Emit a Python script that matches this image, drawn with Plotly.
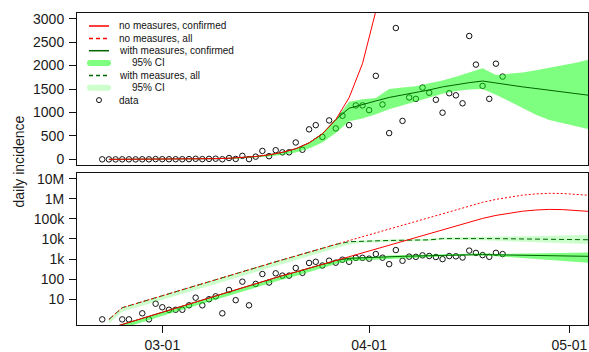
import pandas as pd
import plotly.graph_objects as go

# ---- observed daily confirmed cases ----
obs_dates = pd.date_range("2020-02-21", "2020-04-21", freq="D")
daily_cases = [
    1, 0, 0, 1, 1, 0, 2, 1, 6, 4,
    3, 3, 3, 5, 12, 5, 10, 14, 2, 29,
    9, 75, 5, 58, 180, 68, 195, 150, 150, 360,
    205, 640, 730, 478, 830, 660, 930, 730, 1150, 1150,
    1050, 1780, 1170, 560, 2800, 820, 1320, 1290, 1530, 1420,
    1270, 995, 1410, 1365, 1195, 2630, 2020, 1565, 1290, 2040,
    1765,
]

# ---- model output (every second day) ----
model_dates = pd.date_range("2020-02-22", "2020-05-04", freq="2D")

conf_no_measures = [
    0.35, 0.56, 0.91, 1.45, 2.3, 3.7, 5.9, 9.4, 15, 24,
    38, 61, 97, 150, 226, 352, 545, 848, 1316, 2040,
    3160, 4900, 7600, 11700, 18600, 29500, 45700, 70800, 105000, 148000,
    195000, 240000, 275000, 295000, 288000, 263000, 234000,
]
all_no_measures = [
    1.0, 3.8, 6.0, 9.5, 15, 24, 39, 62, 98, 155,
    245, 390, 610, 920, 1420, 2240, 3470, 5370, 8300, 12900,
    20000, 31000, 48000, 74000, 117000, 186000, 288000, 447000, 660000, 930000,
    1230000, 1510000, 1740000, 1860000, 1820000, 1660000, 1480000,
]
conf_measures = [
    0.35, 0.56, 0.91, 1.45, 2.3, 3.7, 5.9, 9.4, 15, 24,
    38, 61, 97, 150, 226, 352, 545, 848, 1090, 1175,
    1245, 1320, 1370, 1420, 1480, 1545, 1595, 1635, 1670, 1625,
    1585, 1545, 1510, 1475, 1440, 1400, 1365,
]
conf_measures_lo = [
    0.22, 0.36, 0.58, 0.93, 1.5, 2.4, 3.8, 6.1, 9.7, 15.5,
    25, 39, 62, 96, 145, 230, 360, 560, 810, 870,
    960, 1070, 1150, 1240, 1320, 1400, 1460, 1490, 1500, 1380,
    1240, 1100, 950, 840, 770, 700, 640,
]
conf_measures_hi = [
    0.36, 0.57, 0.92, 1.46, 2.3, 3.7, 5.9, 9.4, 15, 24,
    38, 61, 97, 150, 226, 352, 560, 860, 1230, 1280,
    1310, 1500, 1530, 1560, 1620, 1680, 1760, 1850, 1940, 1800,
    1820, 1850, 1900, 1950, 2000, 2060, 2130,
]
all_measures = [
    1.0, 3.8, 6.0, 9.5, 15, 24, 39, 62, 98, 155,
    245, 390, 610, 920, 1420, 2240, 3470, 5370, 7300, 7800,
    8100, 8400, 8600, 8800, 9000, 10400, 10600, 10600, 10500, 10400,
    10200, 10000, 9800, 9600, 9400, 9200, 9100,
]
all_measures_lo = [
    0.62, 2.4, 3.8, 6.0, 9.5, 15, 25, 39, 62, 98,
    155, 245, 385, 580, 900, 1410, 2200, 3400, 5300, 6400,
    6900, 7300, 7500, 7700, 7900, 9000, 9100, 8900, 8600, 8100,
    7600, 7100, 6700, 6300, 6000, 5700, 5500,
]
all_measures_hi = [
    1.02, 3.9, 6.1, 9.7, 15.3, 24.5, 40, 63, 100, 158,
    250, 398, 622, 940, 1450, 2280, 3540, 5480, 7700, 8600,
    9100, 9400, 9700, 9900, 10200, 11800, 12000, 12200, 12500, 12900,
    13300, 13700, 14100, 14500, 15000, 15500, 16000,
]

# ---- axis ticks ----
lin_ticks = [0, 500, 1000, 1500, 2000, 2500, 3000]
log_ticks = [10, 100, 1e3, 1e4, 1e5, 1e6, 1e7]
log_labels = ["10", "100", "1k", "10k", "100k", "1M", "10M"]
date_ticks = ["2020-03-01", "2020-04-01", "2020-05-01"]
date_labels = ["03-01", "04-01", "05-01"]

RED = "#ff0000"
DKGREEN = "#006400"
CI_STRONG = "rgba(0,255,0,0.5)"
CI_LIGHT = "rgba(0,255,0,0.2)"
FONT = "Liberation Sans, Arial, sans-serif"

W, H = 589, 352
ML, MR, MT, MB = 77, 1, 13, 27
PW, PH = W - ML - MR, H - MT - MB


def px(x):
    return (x - ML) / PW


def py(y):
    return (H - MB - y) / PH


fig = go.Figure()


def band(lo, hi, color, xa, ya):
    fig.add_trace(go.Scatter(x=model_dates, y=lo, mode="lines", line=dict(width=0),
                             hoverinfo="skip", xaxis=xa, yaxis=ya))
    fig.add_trace(go.Scatter(x=model_dates, y=hi, mode="lines", line=dict(width=0),
                             fill="tonexty", fillcolor=color, hoverinfo="skip",
                             xaxis=xa, yaxis=ya))


def curve(y, color, dash, xa, ya, width=1):
    fig.add_trace(go.Scatter(x=model_dates, y=y, mode="lines",
                             line=dict(color=color, width=width, dash=dash),
                             xaxis=xa, yaxis=ya))


def points(y, xa, ya):
    fig.add_trace(go.Scatter(x=obs_dates, y=y, mode="markers",
                             marker=dict(symbol="circle-open", size=5.5, color="#111",
                                         line=dict(width=1, color="#111")),
                             xaxis=xa, yaxis=ya))


# top panel: linear scale, confirmed cases only
points(daily_cases, "x", "y")
band(conf_measures_lo, conf_measures_hi, CI_STRONG, "x", "y")
curve(conf_measures, DKGREEN, "solid", "x", "y")
curve(conf_no_measures, RED, "solid", "x", "y")

# bottom panel: log scale, confirmed and all infections
cases_pos = [v if v > 0 else None for v in daily_cases]
points(cases_pos, "x2", "y2")
band(all_measures_lo, all_measures_hi, CI_LIGHT, "x2", "y2")
band(conf_measures_lo, conf_measures_hi, CI_STRONG, "x2", "y2")
curve(all_measures, DKGREEN, "5px,3px", "x2", "y2")
curve(all_no_measures, RED, "2px,2px", "x2", "y2")
curve(conf_measures, DKGREEN, "solid", "x2", "y2")
curve(conf_no_measures, RED, "solid", "x2", "y2")

x_range = ["2020-02-17 05:15", "2020-05-03 19:10"]
axis_common = dict(showline=True, mirror=True, linecolor="#111", linewidth=1,
                   showgrid=False, zeroline=False, automargin=False,
                   tickfont=dict(family=FONT, size=14, color="#1a1a1a"),
                   tickcolor="#111", ticklen=7, ticks="outside")

top_lo = py(165)
bot_hi = py(173)

fig.update_layout(
    width=W, height=H,
    margin=dict(l=ML, r=MR, t=MT, b=MB, pad=0, autoexpand=False),
    paper_bgcolor="white", plot_bgcolor="white",
    showlegend=False,
    xaxis=dict(domain=[0, 1], anchor="y", range=x_range, type="date",
               **{**axis_common, "ticks": "", "showticklabels": False}),
    yaxis=dict(domain=[top_lo, 1], anchor="x", range=[-120, 3120],
               tickvals=lin_ticks, ticklabelstandoff=2, **axis_common),
    xaxis2=dict(domain=[0, 1], anchor="y2", range=x_range, type="date",
                tickvals=date_ticks, ticktext=date_labels, ticklabelstandoff=0,
                **axis_common),
    yaxis2=dict(domain=[0, bot_hi], anchor="x2", type="log", range=[-0.28, 7.28],
                tickvals=log_ticks, ticktext=log_labels, ticklabelstandoff=2,
                **axis_common),
)

# shared y title
fig.add_annotation(text="daily incidence", xref="paper", yref="paper",
                   x=px(18), y=py(161.5), xanchor="center", yanchor="middle",
                   textangle=-90, showarrow=False,
                   font=dict(family=FONT, size=14, color="#1a1a1a"))

# legend block in the upper left of the top panel
rows = [26, 38.4, 50.7, 63, 75.4, 87.8, 100.1]
legend_text = ["no measures, confirmed", "no measures, all", "with measures, confirmed",
               "95% CI", "with measures, all", "95% CI", "data"]
text_x = [117, 117, 117, 130, 117, 130, 117]
for yy, label, tx in zip(rows, legend_text, text_x):
    fig.add_annotation(text=label, xref="paper", yref="paper", x=px(tx), y=py(yy),
                       xanchor="left", yanchor="middle", showarrow=False,
                       font=dict(family=FONT, size=10, color="#111"))

legend_lines = [(rows[0], RED, "solid"), (rows[1], RED, "4px,3px"),
                (rows[2], DKGREEN, "solid"), (rows[4], DKGREEN, "4px,3px")]
for yy, col, dash in legend_lines:
    fig.add_shape(type="line", xref="paper", yref="paper",
                  x0=px(89), x1=px(109), y0=py(yy), y1=py(yy),
                  line=dict(color=col, width=1.5, dash=dash))


def swatch(yy, color):
    l, r, h = 87, 111, 3
    p = (f"M {px(l + h)},{py(yy - h)} L {px(r - h)},{py(yy - h)} "
         f"Q {px(r)},{py(yy - h)} {px(r)},{py(yy)} "
         f"Q {px(r)},{py(yy + h)} {px(r - h)},{py(yy + h)} "
         f"L {px(l + h)},{py(yy + h)} "
         f"Q {px(l)},{py(yy + h)} {px(l)},{py(yy)} "
         f"Q {px(l)},{py(yy - h)} {px(l + h)},{py(yy - h)} Z")
    fig.add_shape(type="path", xref="paper", yref="paper", path=p,
                  fillcolor=color, line=dict(width=0))


swatch(rows[3], CI_STRONG)
swatch(rows[5], CI_LIGHT)

r = 2.5
fig.add_shape(type="circle", xref="paper", yref="paper",
              x0=px(99 - r), x1=px(99 + r), y0=py(rows[6] + r), y1=py(rows[6] - r),
              line=dict(color="#111", width=1))

fig.write_html("out.html")
